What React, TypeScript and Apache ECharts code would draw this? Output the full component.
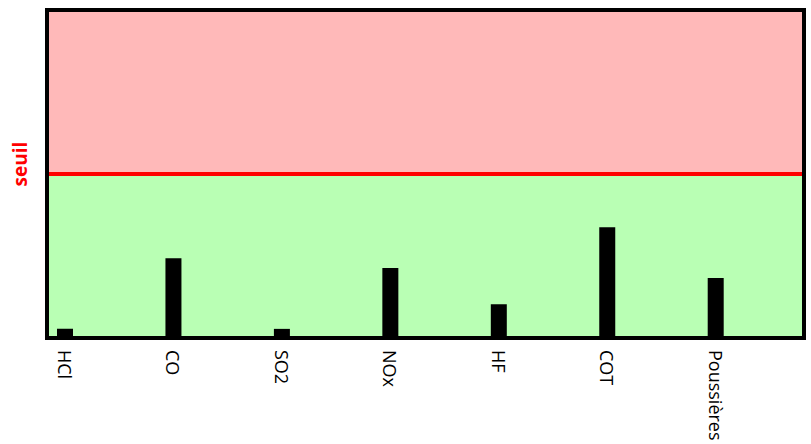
import React, { useEffect, useRef } from "react";
import * as echarts from "echarts";

const categories = ["HCl", "CO", "SO2", "NOx", "HF", "COT", "Poussières"];
const values = [2.25, 24.0, 2.2, 21.0, 9.8, 33.6, 17.9];
const threshold = 50;
const yMax = 100;
const thresholdLabel = "seuil";

export default function App() {
  const ref = useRef<HTMLDivElement>(null);
  useEffect(() => {
    document.body.style.margin = "0";
    if (!ref.current) return;
    const chart = echarts.init(ref.current, null, { renderer: "svg" });
    chart.setOption({
      animation: false,
      grid: {
        left: 49,
        top: 12,
        right: 9,
        bottom: 108,
        show: true,
        borderColor: "#000",
        borderWidth: 8,
        backgroundColor: "transparent",
      },
      xAxis: {
        type: "value",
        min: -0.1475,
        max: 6.7957,
        axisLine: { show: false },
        axisTick: { show: false },
        splitLine: { show: false },
        axisLabel: {
          customValues: categories.map((_, i) => i),
          formatter: (v: number) => categories[Math.round(v)] ?? "",
          rotate: -90,
          margin: 14,
          fontSize: 18,
          fontFamily: "Open Sans",
          color: "#000",
        },
      },
      yAxis: {
        type: "value",
        min: 0,
        max: yMax,
        axisLine: { show: false },
        axisTick: { show: false },
        splitLine: { show: false },
        axisLabel: { show: false },
      },
      graphic: [
        {
          type: "text",
          x: 20,
          y: 164,
          rotation: Math.PI / 2,
          style: {
            text: thresholdLabel,
            fill: "#ff0000",
            font: "bold 19px 'Open Sans'",
            align: "center",
            verticalAlign: "middle",
          },
        },
      ],
      series: [
        {
          type: "bar",
          data: categories.map((_, i) => [i, values[i]]),
          barWidth: 16,
          itemStyle: { color: "#000" },
          markArea: {
            silent: true,
            data: [
              [
                { yAxis: threshold, itemStyle: { color: "#ffb9b9" } },
                { yAxis: yMax },
              ],
              [
                { yAxis: 0, itemStyle: { color: "#b9ffb4" } },
                { yAxis: threshold },
              ],
            ],
          },
          markLine: {
            silent: true,
            symbol: "none",
            label: { show: false },
            lineStyle: { color: "#ff0000", width: 4, type: "solid" },
            data: [{ yAxis: threshold }],
          },
        },
      ],
    });
    return () => chart.dispose();
  }, []);
  return <div ref={ref} style={{ width: 811, height: 444 }} />;
}
